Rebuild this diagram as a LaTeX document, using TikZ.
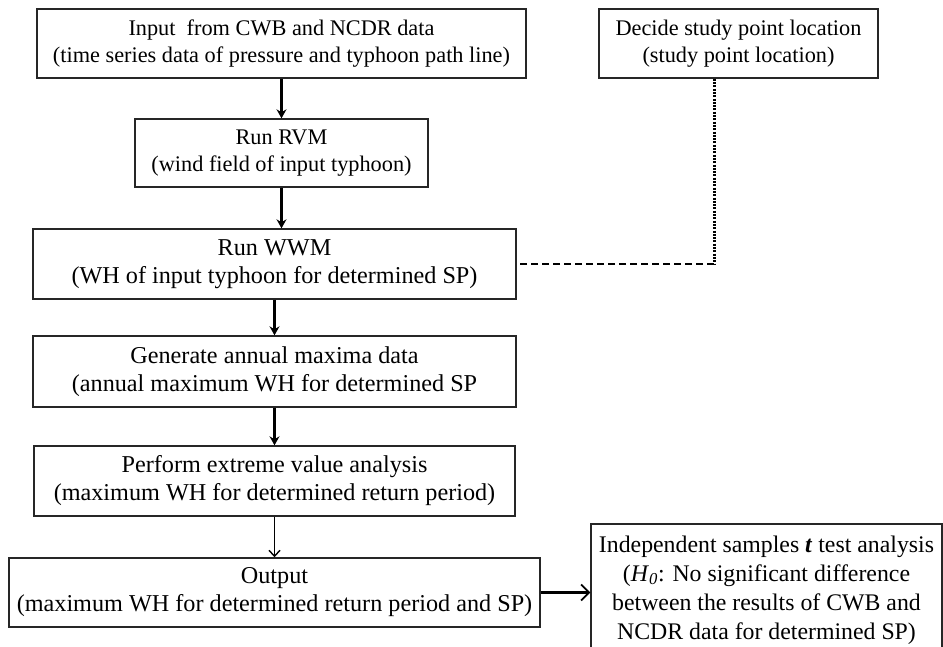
\documentclass[tikz,border=0pt]{standalone}
\usepackage{fontspec}
\setmainfont{Liberation Serif}
\usetikzlibrary{arrows.meta}
\begin{document}
\begin{tikzpicture}[x=1pt,y=1pt,
  box/.style={draw=black!85, line width=1.4pt, rectangle, align=center, inner sep=0pt,
    font=\fontsize{22.3}{27}\selectfont, text=black},
  lowbox/.style={box, font=\fontsize{24.2}{28}\selectfont},
  thickarrow/.style={line width=2.8pt, -{Stealth[length=9pt,width=10pt,inset=3pt]}},
  thinarrow/.style={line width=1.4pt, -{Straight Barb[length=6pt,width=11pt]}},
  sidearrow/.style={line width=2.2pt, -{Straight Barb[length=8pt,width=16pt,line width=1.8pt]}},
  dotline/.style={line width=3pt, dash pattern=on 2pt off 1.3pt},
  dashline/.style={line width=2.2pt, dash pattern=on 7pt off 4pt}]
\useasboundingbox (0,0) rectangle (943,-646);
\node[box, minimum width=489pt, minimum height=69pt] (in) at (281.5,-43.5)
  {Input\ \ from CWB and NCDR data\\(time series data of pressure and typhoon path line)};
\node[box, minimum width=293pt, minimum height=68pt] (rvm) at (281.5,-153)
  {Run RVM\\(wind field of input typhoon)};
\node[box, minimum width=279pt, minimum height=69pt] (dec) at (738.5,-43.5)
  {Decide study point location\\(study point location)};
\node[lowbox, minimum width=483pt, minimum height=70pt] (wwm) at (274.5,-264)
  {Run WWM\\(WH of input typhoon for determined SP)};
\node[lowbox, minimum width=483pt, minimum height=71pt] (gen) at (274.5,-371.5)
  {Generate annual maxima data\\(annual maximum WH for determined SP};
\node[lowbox, minimum width=481pt, minimum height=70pt] (per) at (274.5,-481)
  {Perform extreme value analysis\\(maximum WH for determined return period)};
\node[lowbox, minimum width=531pt, minimum height=69pt] (out) at (274.5,-592.5)
  {Output\\(maximum WH for determined return period and SP)};
\node[box, minimum width=351pt, minimum height=132pt, font=\fontsize{23.8}{29}\selectfont] (ind) at (766.5,-590)
  {Independent samples \textbf{\textit{t}} test analysis\\(\textit{H}\textsubscript{\textit{0}}: No significant difference\\between the results of CWB and\\NCDR data for determined SP)};
\coordinate (bend) at (714,-264);
\draw[thickarrow] (in.south) -- (rvm.north);
\draw[thickarrow] (rvm.south) -- (rvm.south |- wwm.north);
\draw[thickarrow] (wwm.south) -- (gen.north);
\draw[thickarrow] (gen.south) -- (per.north);
\draw[thinarrow] (per.south) -- (out.north);
\draw[sidearrow] (out.east) -- (out.east -| ind.west);
\draw[dotline] (dec.south -| bend) -- (bend);
\draw[dashline] (bend) -- (wwm.east);
\end{tikzpicture}
\end{document}
